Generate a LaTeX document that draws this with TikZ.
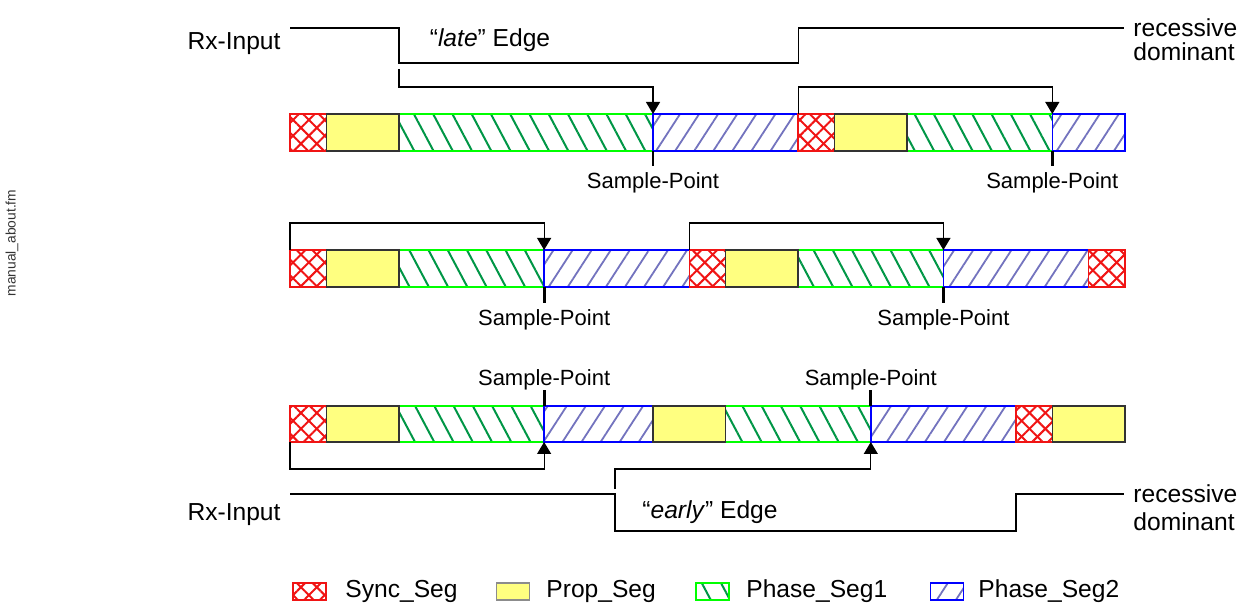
\documentclass[tikz,border=0pt]{standalone}
\usepackage{fontspec}
\setmainfont{Liberation Sans}
\usetikzlibrary{arrows.meta,patterns.meta,calc}

\definecolor{syncred}{RGB}{240,20,20}
\definecolor{propyel}{RGB}{255,255,128}
\definecolor{ph1green}{RGB}{0,255,0}
\definecolor{ph1line}{RGB}{0,150,70}
\definecolor{ph2blue}{RGB}{0,0,255}
\definecolor{ph2line}{RGB}{115,115,190}

\tikzset{
  sync/.style={draw=syncred,line width=0.8pt,
    preaction={pattern={Lines[angle=45,distance=5.6pt,line width=1pt]},pattern color=syncred},
    preaction={pattern={Lines[angle=-45,distance=5.6pt,line width=1pt]},pattern color=syncred}},
  prop/.style={draw=black!80,line width=0.8pt,fill=propyel},
  phA/.style={draw=ph1green,line width=0.8pt,
    preaction={pattern={Lines[angle=-62,distance=8.5pt,line width=1pt]},pattern color=ph1line}},
  phB/.style={draw=ph2blue,line width=0.8pt,
    preaction={pattern={Lines[angle=57,distance=8pt,line width=0.9pt]},pattern color=ph2line}},
  sig/.style={line width=0.7pt},
  brk/.style={line width=0.6pt,-{Triangle[width=7pt,length=6pt]}},
  sptick/.style={line width=1.4pt},
  lbl/.style={font=\fontsize{12.3}{14}\selectfont,inner sep=0pt},
  splbl/.style={font=\fontsize{11}{13}\selectfont,inner sep=0pt},
}

\def\xs{290}
\def\q{36.3}

\begin{document}
\begin{tikzpicture}[x=0.5pt,y=-0.5pt]
\useasboundingbox (0,0) rectangle (1246,603);

\node[rotate=90,inner sep=0pt,text=black!80,font=\fontsize{6.9}{8}\selectfont] (fname) at (12,243) {manual\_about.fm};

% late edge
\node[lbl] (rx1) at (234,44) {Rx-Input};
\node[lbl] (late) at (490,40) {``\textit{late}'' Edge};
\node[lbl,anchor=west] (rec1) at (1133,28) {recessive};
\node[lbl,anchor=west] (dom1) at (1133,52) {dominant};
\draw[sig] (\xs,28) -- ({\xs+3*\q},28) -- ({\xs+3*\q},63) -- ({\xs+14*\q},63)
  -- ({\xs+14*\q},28) -- (1124,28);

\foreach \s/\a/\b in {sync/0/1,phA/3/10,phB/10/14,sync/14/15,phA/17/21,phB/21/23,prop/1/3,prop/15/17}
  \draw[\s] ({\xs+\a*\q},114) rectangle ({\xs+\b*\q},151);

\coordinate (e1) at ({\xs+3*\q},69);
\coordinate (r1) at ({\xs+14*\q},114);
\coordinate (sp1) at ({\xs+10*\q},114);
\coordinate (sp2) at ({\xs+21*\q},114);
\draw[brk] (e1) -- ++(0,18) -| (sp1);
\draw[brk] (r1) -- ++(0,-27) -| (sp2);
\draw[sptick] ($(sp1)+(0,37)$) -- ++(0,15);
\draw[sptick] ($(sp2)+(0,37)$) -- ++(0,15);
\node[splbl] (spl1) at ($(sp1)+(0,69)$) {Sample-Point};
\node[splbl] (spl2) at ($(sp2)+(0,69)$) {Sample-Point};

% no shift
\foreach \s/\a/\b in {sync/0/1,phA/3/7,phB/7/11,sync/11/12,phA/14/18,phB/18/22,sync/22/23,prop/1/3,prop/12/14}
  \draw[\s] ({\xs+\a*\q},250) rectangle ({\xs+\b*\q},287);

\coordinate (r2a) at (\xs,250);
\coordinate (r2b) at ({\xs+11*\q},250);
\coordinate (sp3) at ({\xs+7*\q},250);
\coordinate (sp4) at ({\xs+18*\q},250);
\draw[brk] (r2a) -- ++(0,-27) -| (sp3);
\draw[brk] (r2b) -- ++(0,-27) -| (sp4);
\draw[sptick] ($(sp3)+(0,37)$) -- ++(0,16);
\draw[sptick] ($(sp4)+(0,37)$) -- ++(0,16);
\node[splbl] (spl3) at ($(sp3)+(0,70)$) {Sample-Point};
\node[splbl] (spl4) at ($(sp4)+(0,70)$) {Sample-Point};

% early edge
\foreach \s/\a/\b in {sync/0/1,phA/3/7,phB/7/10,phA/12/16,phB/16/20,sync/20/21,prop/1/3,prop/10/12,prop/21/23}
  \draw[\s] ({\xs+\a*\q},406) rectangle ({\xs+\b*\q},442);

\coordinate (r3a) at (\xs,442);
\coordinate (e2) at (615,489);
\coordinate (sp5) at ({\xs+7*\q},442);
\coordinate (sp6) at ({\xs+16*\q},442);
\draw[brk] (r3a) -- ++(0,27) -| (sp5);
\draw[brk] (e2) -- ++(0,-20) -| (sp6);
\draw[sptick] ($(sp5)+(0,-36)$) -- ++(0,-16);
\draw[sptick] ($(sp6)+(0,-36)$) -- ++(0,-16);
\node[splbl] (spl5) at ($(sp5)+(0,-62)$) {Sample-Point};
\node[splbl] (spl6) at ($(sp6)+(0,-62)$) {Sample-Point};

\node[lbl] (rx2) at (234,515) {Rx-Input};
\node[lbl] (early) at (710,512) {``\textit{early}'' Edge};
\node[lbl,anchor=west] (rec2) at (1133,494) {recessive};
\node[lbl,anchor=west] (dom2) at (1133,522) {dominant};
\draw[sig] (\xs,494) -- (615,494) -- (615,531) -- ({\xs+20*\q},531)
  -- ({\xs+20*\q},494) -- (1124,494);

% legend
\node[sync,inner sep=0pt,minimum width=16.5pt,minimum height=8.5pt] (lgsync) at (309.5,591.5) {};
\node[lbl,anchor=west] (lgsynct) at (345,591) {Sync\_Seg};
\node[prop,draw=black!45,inner sep=0pt,minimum width=16.5pt,minimum height=8.5pt] (lgprop) at (513,591.5) {};
\node[lbl,anchor=west] (lgpropt) at (546,591) {Prop\_Seg};
\node[phA,inner sep=0pt,minimum width=16.5pt,minimum height=8.5pt] (lgphA) at (712.5,591.5) {};
\node[lbl,anchor=west] (lgphAt) at (746,591) {Phase\_Seg1};
\node[phB,inner sep=0pt,minimum width=16.5pt,minimum height=8.5pt] (lgphB) at (947,591.5) {};
\node[lbl,anchor=west] (lgphBt) at (978,591) {Phase\_Seg2};
\end{tikzpicture}
\end{document}
